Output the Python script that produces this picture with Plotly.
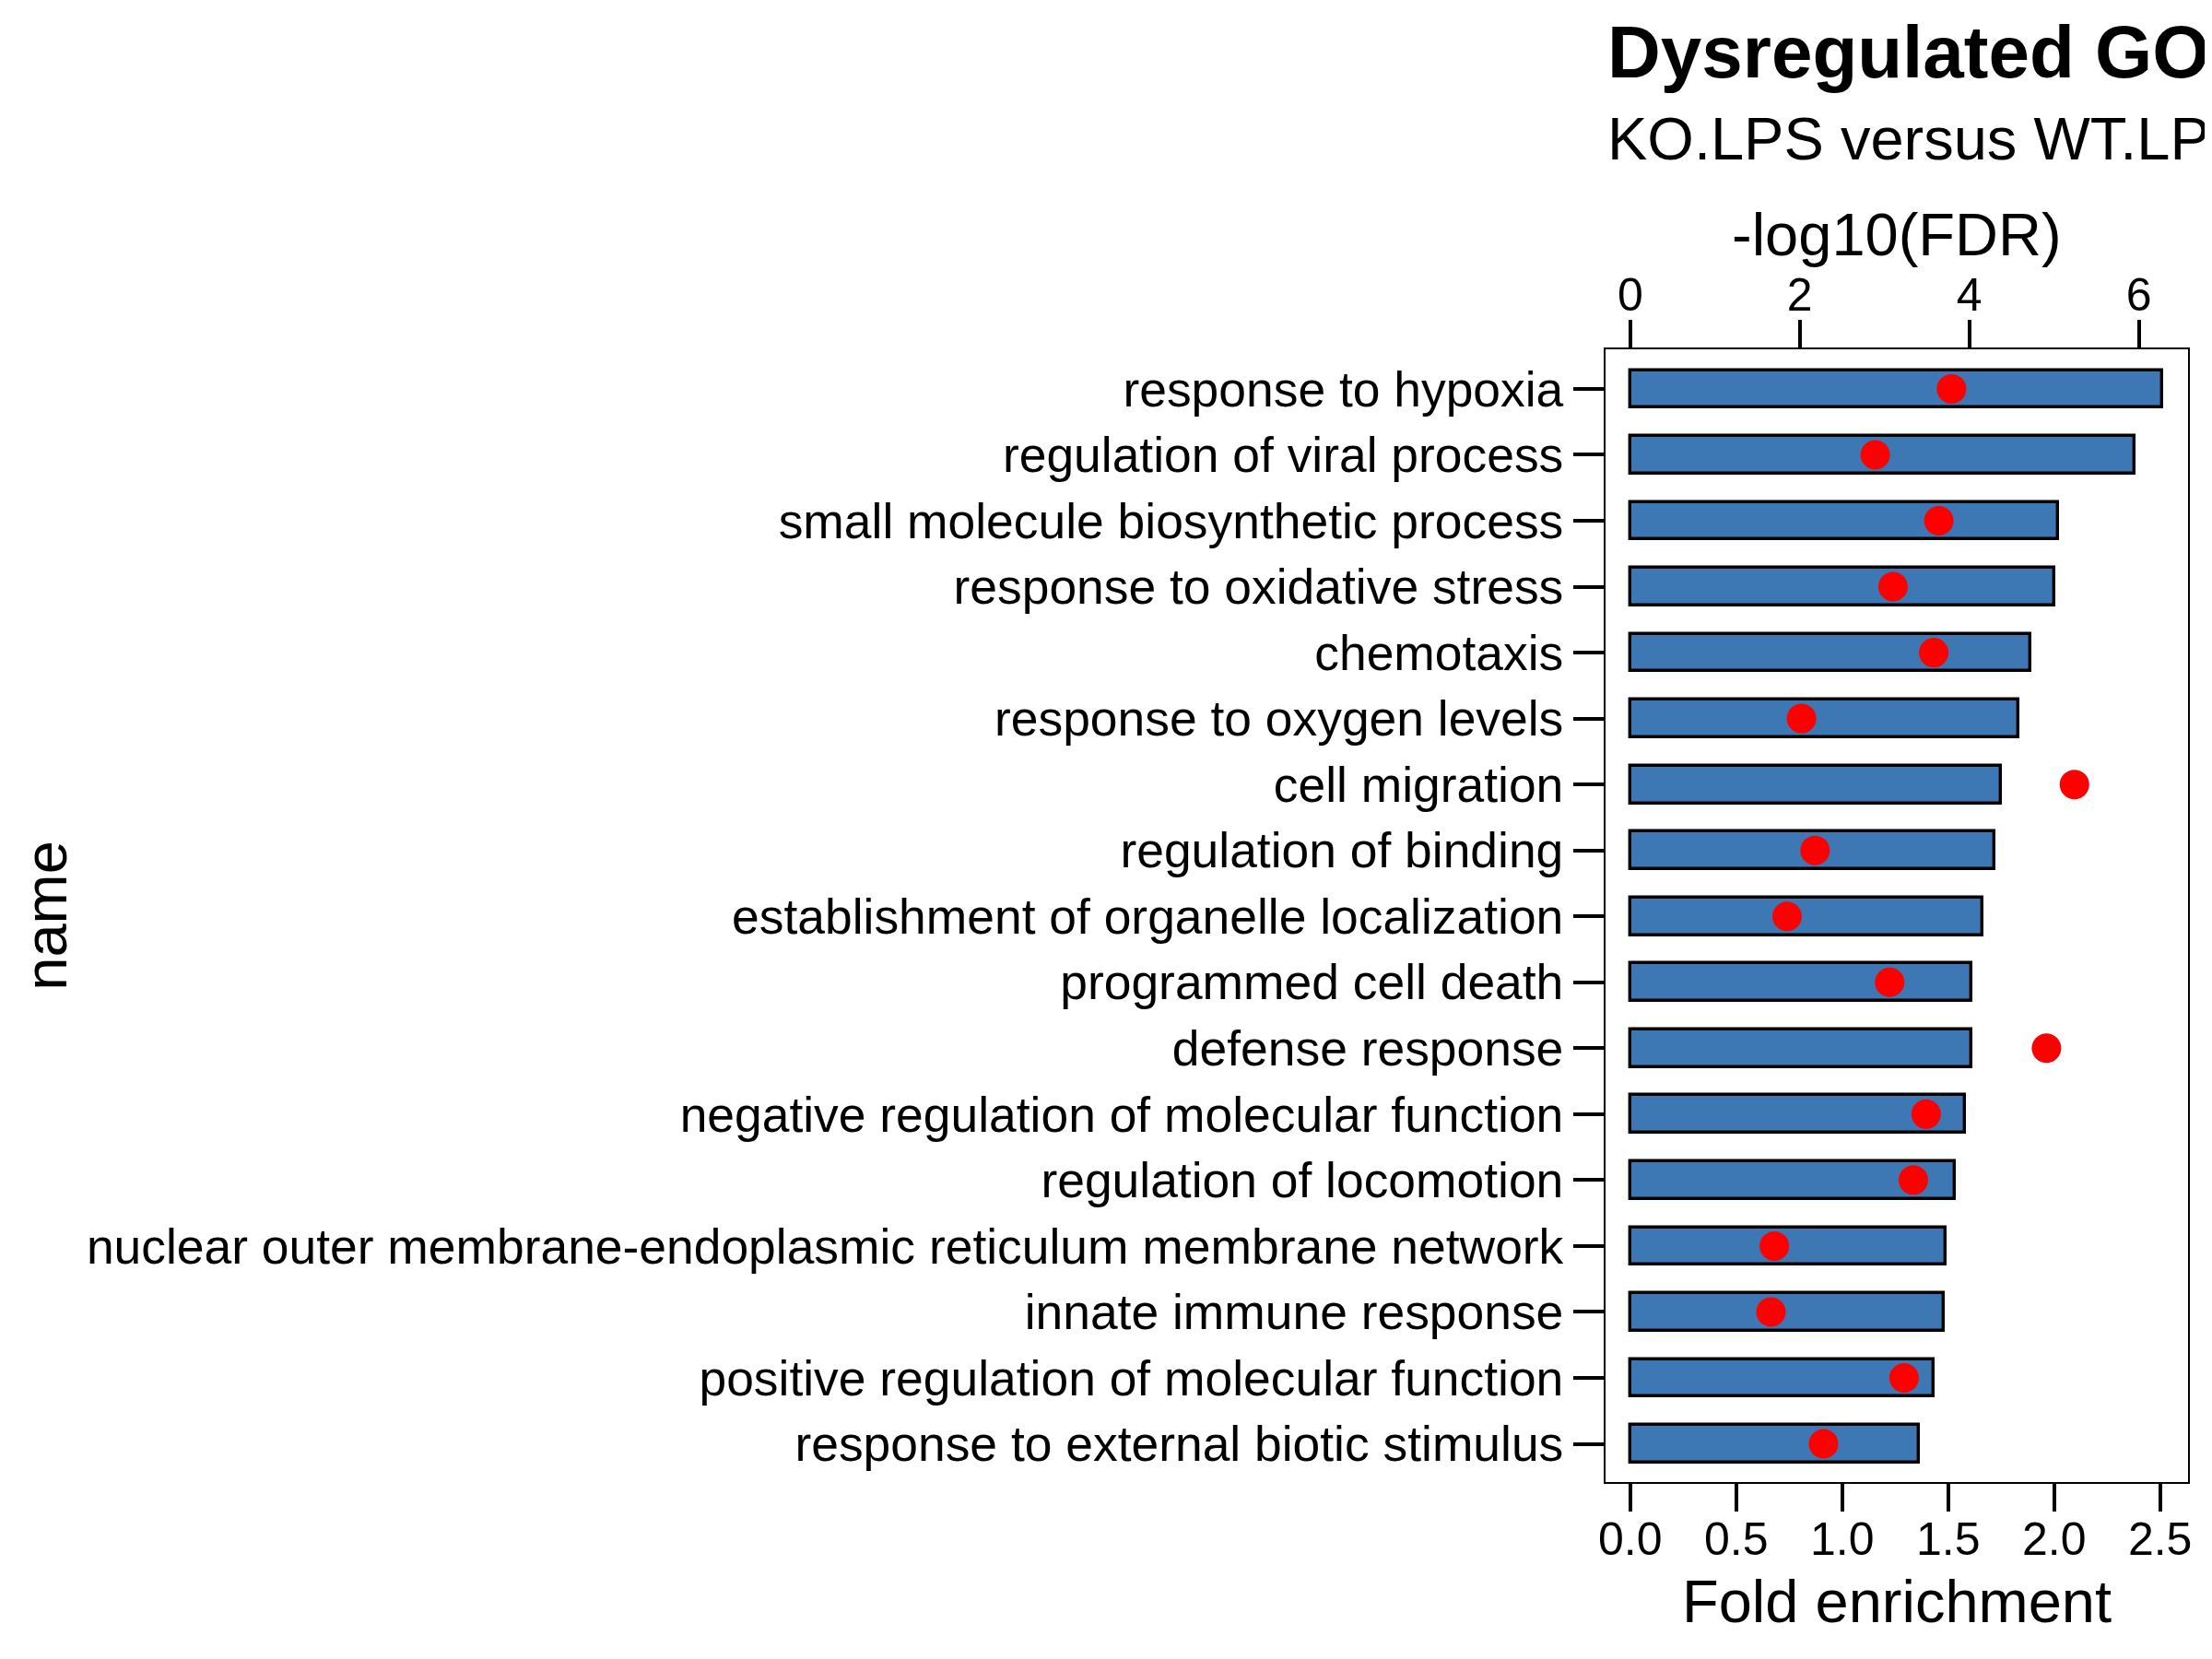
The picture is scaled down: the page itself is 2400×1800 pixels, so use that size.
import plotly.graph_objects as go

categories = [
    "response to hypoxia",
    "regulation of viral process",
    "small molecule biosynthetic process",
    "response to oxidative stress",
    "chemotaxis",
    "response to oxygen levels",
    "cell migration",
    "regulation of binding",
    "establishment of organelle localization",
    "programmed cell death",
    "defense response",
    "negative regulation of molecular function",
    "regulation of locomotion",
    "nuclear outer membrane-endoplasmic reticulum membrane network",
    "innate immune response",
    "positive regulation of molecular function",
    "response to external biotic stimulus",
]
fold_enrichment = [2.51, 2.38, 2.02, 2.00, 1.89, 1.83, 1.75, 1.72, 1.66, 1.61,
                   1.61, 1.58, 1.53, 1.49, 1.48, 1.43, 1.36]
neg_log10_fdr = [3.79, 2.89, 3.64, 3.10, 3.58, 2.02, 5.24, 2.18, 1.85, 3.06,
                 4.91, 3.49, 3.34, 1.70, 1.66, 3.23, 2.28]

fold_ticks = [0.0, 0.5, 1.0, 1.5, 2.0, 2.5]
fdr_ticks = [0, 2, 4, 6]

title_text = "Dysregulated GO"
subtitle_text = "KO.LPS versus WT.LPS"
x_title = "Fold enrichment"
x2_title = "-log10(FDR)"
y_title = "name"

FONT = "Liberation Sans, Arial, Helvetica, sans-serif"
W, H = 2400, 1800
OFF = 8  # page body margin in the browser
L, R, T, B = 1742, 2374, 379, 1608  # plot frame in screen pixels


def px_x(p):
    return (p - L) / (R - L)


def px_y(p):
    return (B - p) / (B - T)


fig = go.Figure()
fig.add_trace(go.Bar(
    x=fold_enrichment, y=categories, orientation="h", width=0.57,
    marker=dict(color="#3E78B4", line=dict(color="black", width=3.4)),
    xaxis="x", yaxis="y", showlegend=False,
))
fig.add_trace(go.Scatter(
    x=neg_log10_fdr, y=categories, mode="markers",
    marker=dict(color="#FF0000", size=32, line=dict(width=0)),
    xaxis="x2", yaxis="y", showlegend=False,
))

axis_common = dict(showgrid=False, zeroline=False, showline=True, linecolor="black",
                   linewidth=2, ticks="outside", tickcolor="black", tickwidth=3.5)

fig.update_layout(
    width=W, height=H,
    margin=dict(l=L - OFF, r=W - (R - OFF), t=T - OFF, b=H - (B - OFF), pad=0),
    paper_bgcolor="white", plot_bgcolor="white",
    font=dict(family=FONT, color="black"),
    bargap=0,
    xaxis=dict(**axis_common, range=[-0.1166, 2.632], tickvals=fold_ticks,
               ticktext=[f"{v:.1f}" for v in fold_ticks], ticklen=30, mirror=True,
               ticklabelstandoff=-13,
               tickfont=dict(size=50, family=FONT, color="black"), side="bottom"),
    xaxis2=dict(**axis_common, range=[-0.2915, 6.58], tickvals=fdr_ticks,
                ticktext=[str(v) for v in fdr_ticks], ticklen=30,
                ticklabelstandoff=-10,
                tickfont=dict(size=50, family=FONT, color="black"),
                overlaying="x", side="top", anchor="y"),
    yaxis=dict(**axis_common, type="category", categoryorder="array",
               categoryarray=categories, range=[16.58, -0.6], ticklen=33, mirror=True,
               tickfont=dict(size=53.4, family=FONT, color="black")),
)

ann = []
ann.append(dict(text=f"<b>{title_text}</b>", xref="paper", yref="paper",
                x=px_x(L), y=px_y(56.3), xanchor="left", yanchor="middle",
                showarrow=False, font=dict(size=80, family=FONT, color="black")))
ann.append(dict(text=subtitle_text, xref="paper", yref="paper",
                x=px_x(L), y=px_y(150.8), xanchor="left", yanchor="middle",
                showarrow=False, font=dict(size=65, family=FONT, color="black")))
ann.append(dict(text=x2_title, xref="paper", yref="paper",
                x=0.5, y=px_y(254.5), xanchor="center", yanchor="middle",
                showarrow=False, font=dict(size=65, family=FONT, color="black")))
ann.append(dict(text=x_title, xref="paper", yref="paper",
                x=0.5, y=px_y(1737.5), xanchor="center", yanchor="middle",
                showarrow=False, font=dict(size=65, family=FONT, color="black")))
ann.append(dict(text=y_title, xref="paper", yref="paper", textangle=-90,
                x=px_x(49.2), y=0.5, xanchor="center", yanchor="middle",
                showarrow=False, font=dict(size=65, family=FONT, color="black")))
fig.update_layout(annotations=ann)

fig.write_html("out.html")
